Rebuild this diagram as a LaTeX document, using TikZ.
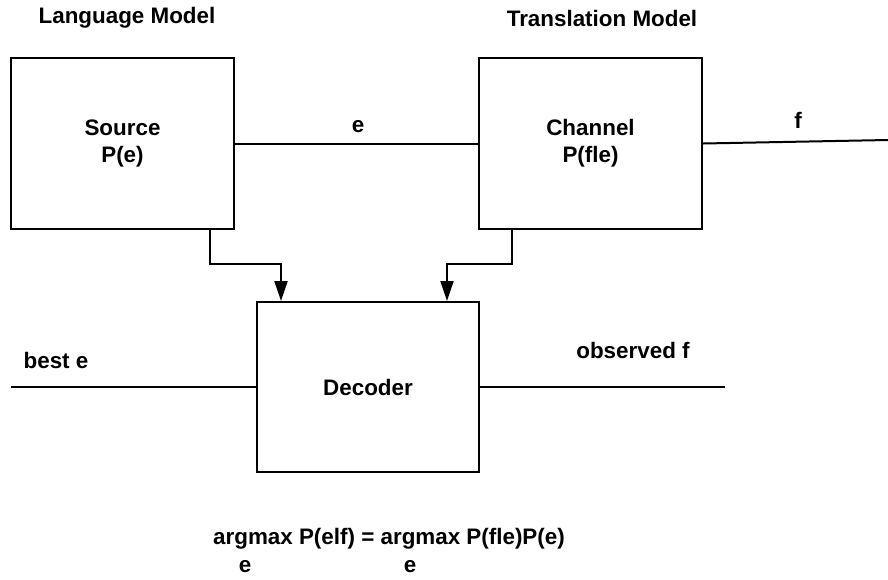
\documentclass[tikz,border=0pt]{standalone}
\usepackage{fontspec}
\setmainfont{Liberation Sans}
\usetikzlibrary{arrows.meta, positioning}

\begin{document}
\begin{tikzpicture}[x=0.5pt, y=-0.5pt, line width=1pt,
    >={Triangle[length=10pt, width=6.5pt]},
    every node/.style={font=\fontsize{11.2}{13.5}\selectfont\bfseries},
    block/.style={draw, rectangle, minimum width=111.5pt, minimum height=85.5pt, align=center, inner sep=0pt},
    lbl/.style={inner sep=0pt}]
    \useasboundingbox (0,0) rectangle (888,579);

    % titles
    \node[lbl] (lmtitle) at (127,18) {Language Model};
    \node[lbl] (tmtitle) at (602,18) {Translation Model};

    % the three boxes
    \node[block] (src) at (122.5,143.5) {Source\\P(e)};
    \node[block] (chan) at (590.5,143.5) {Channel\\P(fle)};
    \node[block, minimum width=111pt, minimum height=85pt] (dec) at (368,387) {Decoder};

    % noisy channel
    \draw (src.east) -- (chan.west);
    \node[lbl] (elbl) at (358,127) {e};
    \coordinate (fend) at (888,140);
    \draw (chan.east) -- (fend);
    \node[lbl] (flbl) at (798,120) {f};

    % decoder in/out
    \coordinate (bestend) at (11,387);
    \draw (bestend) -- (dec.west);
    \node[lbl] (bestlbl) at (56,360) {best e};
    \coordinate (obsend) at (725,387);
    \draw (dec.east) -- (obsend);
    \node[lbl] (obslbl) at (633,350) {observed f};

    % models feed the decoder
    \draw[->] ([xshift=43.75pt]src.south) -- ++(0,34) -| ([xshift=-43.5pt]dec.north);
    \draw[->] ([xshift=-39.25pt]chan.south) -- ++(0,34) -| ([xshift=39.5pt]dec.north);

    % decision rule
    \node[lbl] (rule) at (389,539) {argmax P(elf) = argmax P(fle)P(e)};
    \node[lbl] (sub1) at (245,567) {e};
    \node[lbl] (sub2) at (410,567) {e};
\end{tikzpicture}
\end{document}
